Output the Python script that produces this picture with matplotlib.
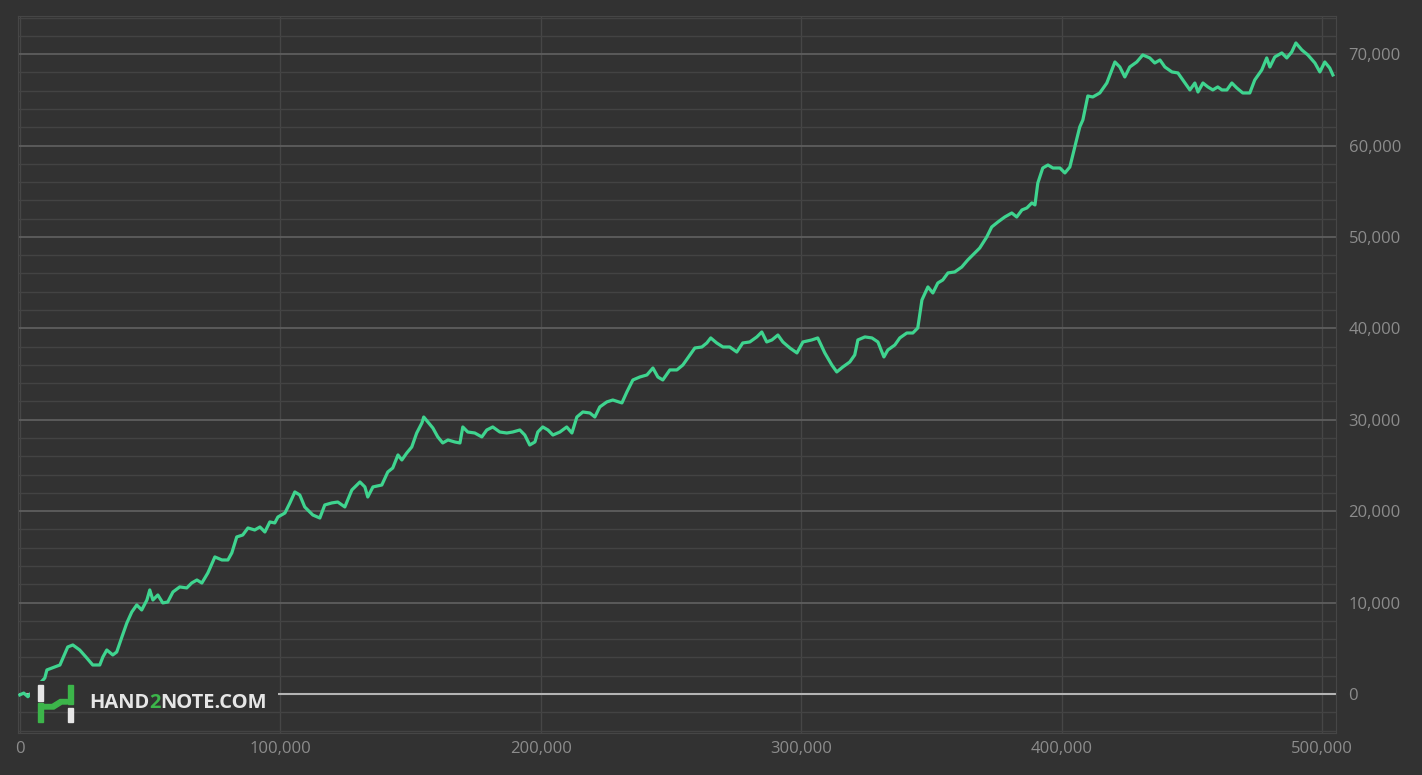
import matplotlib.pyplot as plt
import matplotlib.ticker as mticker
from matplotlib.patches import Rectangle, Polygon
from matplotlib.offsetbox import TextArea, HPacker, AnchoredOffsetbox

# hands played vs. winnings
hands = [0, 1500, 3100, 9600, 10400, 13400, 15400, 18400, 20350, 23000, 25700, 28000, 30700,
         31900, 33400, 35700, 37200, 39200, 41100, 43000, 44900, 46800, 48800, 49900, 51100,
         53000, 54900, 56800, 58800, 61400, 64100, 66000, 68000, 69900, 72200, 74900, 77600,
         79900, 81400, 83300, 85600, 87600, 90200, 92200, 94100, 96000, 97900, 99100, 101800,
         103700, 105600, 107500, 109400, 112500, 115200, 117100, 119800, 122100, 124800,
         127500, 130600, 132500, 133600, 135600, 139000, 141300, 143200, 145200, 146700,
         148600, 150500, 152400, 154400, 155100, 156700, 158600, 160500, 162400, 164400,
         167000, 169000, 170100, 172000, 174700, 177400, 179300, 181600, 184300, 187000,
         189300, 192000, 193900, 195800, 197800, 198900, 200800, 202800, 204700, 207400,
         210000, 212000, 213900, 216200, 218900, 220800, 222700, 225400, 227700, 231200,
         233100, 235400, 238100, 240800, 243100, 245000, 246900, 249600, 252300, 254600,
         256500, 259200, 261900, 263800, 265300, 267600, 270000, 272600, 275300, 277600,
         280300, 283000, 284900, 286800, 288800, 291100, 293000, 295700, 298400, 300700,
         304100, 306400, 309100, 311800, 313700, 316000, 318700, 320600, 321800, 324500,
         327200, 329500, 331800, 333300, 336000, 337900, 340600, 342900, 344800, 346400,
         348700, 350600, 352500, 354400, 356400, 359000, 361700, 364000, 366700, 368600,
         371300, 373200, 375600, 378200, 380900, 382800, 384800, 386700, 388600, 389800,
         390900, 392800, 394800, 396700, 399400, 401300, 403200, 405100, 407000, 408200,
         410100, 412000, 414700, 417400, 420500, 422400, 424300, 426200, 428900, 431200,
         433900, 435800, 437800, 439700, 442400, 444700, 447400, 449300, 451200, 452400,
         454300, 456200, 458100, 460000, 461600, 463500, 465400, 467300, 469600, 472300,
         474200, 476900, 478800, 480000, 481900, 484600, 486500, 488400, 490000, 492300,
         494600, 497300, 499200, 501100, 503000, 504200]
profit = [-100, 100, -300, 1750, 2630, 2950, 3170, 5140, 5360, 4810, 3940, 3170, 3170,
          4050, 4810, 4270, 4590, 6240, 7770, 8970, 9740, 9190, 10280, 11380, 10280,
          10830, 9960, 10060, 11160, 11710, 11600, 12140, 12470, 12140, 13240, 14990, 14660,
          14660, 15430, 17180, 17390, 18160, 17940, 18270, 17720, 18820, 18710, 19360, 19800,
          20900, 22100, 21770, 20460, 19580, 19250, 20680, 20900, 21000, 20460,
          22320, 23190, 22650, 21550, 22650, 22860, 24290, 24720, 26150, 25600,
          26370, 27020, 28550, 29650, 30300, 29760, 29100, 28120, 27460, 27790,
          27570, 27460, 29210, 28660, 28550, 28120, 28880, 29210, 28660, 28550,
          28660, 28880, 28330, 27240, 27570, 28660, 29210, 28880, 28330, 28660,
          29210, 28550, 30300, 30850, 30740, 30300, 31400, 31950, 32160, 31840,
          33040, 34350, 34680, 34900, 35660, 34680, 34350, 35450, 35450, 35990,
          36760, 37850, 37960, 38400, 38950, 38400, 37960, 37960, 37410, 38400,
          38510, 39060, 39600, 38510, 38730, 39270, 38510, 37850, 37310, 38510,
          38730, 38950, 37310, 35990, 35230, 35770, 36320, 37090, 38730, 39060,
          38950, 38510, 36870, 37630, 38180, 38950, 39490, 39490, 40040, 43100,
          44530, 43870, 44960, 45290, 46060, 46170, 46710, 47480, 48250, 48790,
          50000, 51090, 51640, 52180, 52620, 52180, 52950, 53170, 53720, 53500,
          55900, 57540, 57870, 57540, 57540, 57000, 57650, 59840, 62030, 62800,
          65420, 65310, 65750, 66840, 69140, 68590, 67500, 68590, 69140, 69910,
          69580, 69030, 69360, 68590, 68050, 67940, 66840, 66080, 66840, 65860,
          66840, 66410, 66080, 66410, 66080, 66080, 66840, 66300, 65750, 65750,
          67170, 68270, 69580, 68590, 69690, 70130, 69580, 70230, 71220, 70450,
          69910, 69030, 68050, 69140, 68480, 67720]

bg = "#323232"
line_green = "#3fd48f"
logo_green = "#3cb54a"
logo_white = "#e6e6e6"

fig = plt.figure(figsize=(14.22, 7.75), dpi=100, facecolor=bg)
ax = fig.add_axes([18 / 1422, 42 / 775, 1318 / 1422, 717 / 775], facecolor=bg)

ax.plot(hands, profit, color=line_green, linewidth=2.3, solid_joinstyle="round", zorder=3)
ax.axhline(0, color="#b4b4b4", linewidth=1.5, zorder=2)

ax.set_xlim(-700, 505400)
ax.set_ylim(-4270, 74170)
ax.xaxis.set_major_locator(mticker.MultipleLocator(100000))
ax.yaxis.set_major_locator(mticker.MultipleLocator(10000))
ax.yaxis.set_minor_locator(mticker.MultipleLocator(2000))
fmt = mticker.FuncFormatter(lambda v, p: f"{v:,.0f}")
ax.xaxis.set_major_formatter(fmt)
ax.yaxis.set_major_formatter(fmt)
ax.yaxis.tick_right()

ax.grid(axis="x", which="major", color="#464646", linewidth=1)
ax.grid(axis="y", which="major", color="#5e5e5e", linewidth=1.3)
ax.grid(axis="y", which="minor", color="#434343", linewidth=1)
ax.set_axisbelow(True)

ax.tick_params(which="both", length=0, colors="#8c8c8c", labelsize=12)
ax.tick_params(axis="y", pad=9)
ax.tick_params(axis="x", pad=6)
for lab in ax.get_xticklabels() + ax.get_yticklabels():
    lab.set_fontfamily("Open Sans")
for s in ax.spines.values():
    s.set_color("#464646")

# patch behind the watermark hides the zero line and the start of the curve
ax.add_patch(Rectangle((3840, -985), 95200, 2400, facecolor=bg, edgecolor="none", zorder=4))

# watermark text
tp = dict(fontsize=14.5, fontweight="bold", family="Open Sans")
parts = [TextArea("HAND", textprops=dict(color=logo_white, **tp)),
         TextArea("2", textprops=dict(color=logo_green, **tp)),
         TextArea("NOTE.COM", textprops=dict(color=logo_white, **tp))]
box = AnchoredOffsetbox(loc="center left", child=HPacker(children=parts, sep=0, pad=0),
                        bbox_to_anchor=(89 / 1422, (775 - 703) / 775),
                        bbox_transform=fig.transFigure, frameon=False, pad=0, borderpad=0)
box.set_zorder(6)
ax.add_artist(box)

# watermark "H" icon
lx = fig.add_axes([36 / 1422, (775 - 724) / 775, 39 / 1422, 41 / 775])
lx.set_xlim(36, 75)
lx.set_ylim(724, 683)
lx.axis("off")
lx.add_patch(Rectangle((37.5, 685), 5, 16, color=logo_white))
lx.add_patch(Rectangle((37.5, 703), 5, 19, color=logo_green))
lx.add_patch(Rectangle((67.5, 685), 5, 19, color=logo_green))
lx.add_patch(Rectangle((67.5, 708), 5, 14, color=logo_white))
lx.add_patch(Polygon([(42.5, 704.5), (52, 704.5), (60, 699.5), (67.5, 699.5),
                      (67.5, 704), (62, 704), (54, 709), (42.5, 709)], color=logo_green))

fig.savefig("out.png", dpi=100, facecolor=bg)
